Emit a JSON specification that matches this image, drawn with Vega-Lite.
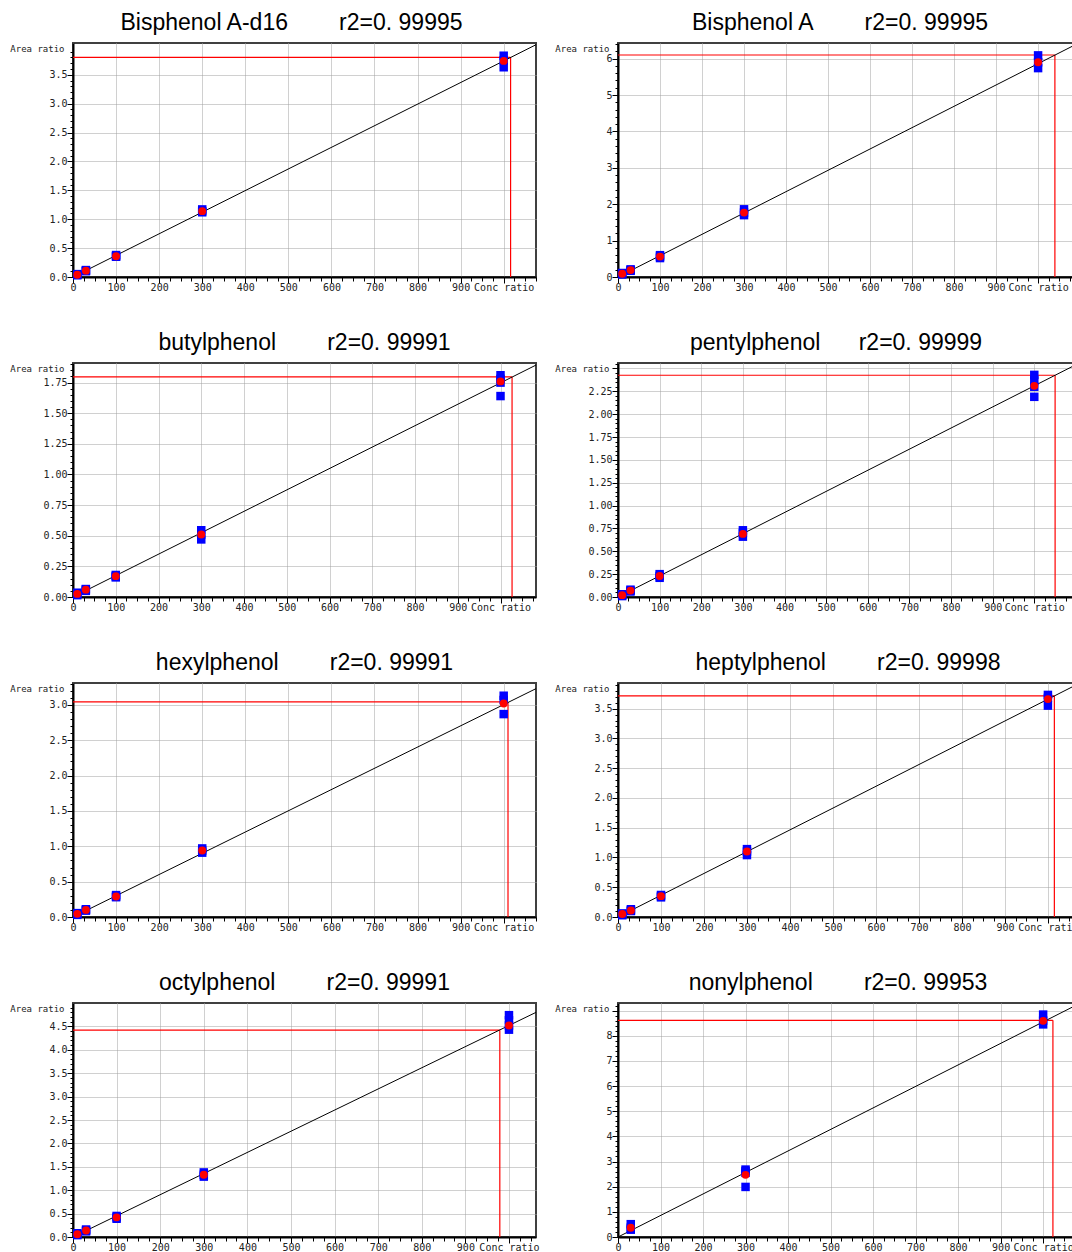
{
"$schema": "https://vega.github.io/schema/vega-lite/v6.json",
"padding": {"left": 8, "top": 10, "right": 0, "bottom": 0},
"columns": 2,
"spacing": {"row": 86, "column": 82},
"bounds": "flush",
"config": {
 "view": {"stroke": "#404040", "strokeWidth": 2},
 "axis": {"domainColor": "black", "domainWidth": 2, "tickColor": "black", "tickWidth": 1, "labelFont": "DejaVu Sans Mono", "labelColor": "#222222", "grid": true, "gridColor": "#a0a0a0", "gridDash": [1, 1], "gridWidth": 1, "labelOverlap": false, "labelFlush": false, "titleFont": "DejaVu Sans Mono", "titleFontSize": 9, "titleFontWeight": "normal", "titleColor": "#222222"},
 "axisX": {"labelPadding": -1},
 "axisY": {"labelPadding": 0, "titleAngle": 0, "titleAlign": "right", "titleBaseline": "middle", "titleX": -9, "titleY": 5},
 "title": {"font": "Liberation Sans", "fontSize": 23, "fontWeight": "normal", "offset": 8, "anchor": "middle", "color": "black"}
},
"datasets": {
 "seg": [
  {"p": "d16", "k": "ref", "x0": 0, "y0": 3.80, "x1": 1016, "y1": 3.80}, {"p": "d16", "k": "ref", "x0": 1016, "y0": 0, "x1": 1016, "y1": 3.80},
  {"p": "bpa", "k": "ref", "x0": 0, "y0": 6.10, "x1": 1040, "y1": 6.10}, {"p": "bpa", "k": "ref", "x0": 1040, "y0": 0, "x1": 1040, "y1": 6.10},
  {"p": "but", "k": "ref", "x0": 0, "y0": 1.796, "x1": 1027, "y1": 1.796}, {"p": "but", "k": "ref", "x0": 1027, "y0": 0, "x1": 1027, "y1": 1.796},
  {"p": "pen", "k": "ref", "x0": 0, "y0": 2.426, "x1": 1050, "y1": 2.426}, {"p": "pen", "k": "ref", "x0": 1050, "y0": 0, "x1": 1050, "y1": 2.426},
  {"p": "hex", "k": "ref", "x0": 0, "y0": 3.042, "x1": 1010, "y1": 3.042}, {"p": "hex", "k": "ref", "x0": 1010, "y0": 0, "x1": 1010, "y1": 3.042},
  {"p": "hep", "k": "ref", "x0": 0, "y0": 3.713, "x1": 1015, "y1": 3.713}, {"p": "hep", "k": "ref", "x0": 1015, "y0": 0, "x1": 1015, "y1": 3.713},
  {"p": "oct", "k": "ref", "x0": 0, "y0": 4.42, "x1": 979, "y1": 4.42}, {"p": "oct", "k": "ref", "x0": 979, "y0": 0, "x1": 979, "y1": 4.42},
  {"p": "non", "k": "ref", "x0": 0, "y0": 8.61, "x1": 1023, "y1": 8.61}, {"p": "non", "k": "ref", "x0": 1023, "y0": 0, "x1": 1023, "y1": 8.61},
  {"p": "d16", "k": "fit", "x0": 0, "y0": 0, "x1": 1075, "y1": 4.02},
  {"p": "bpa", "k": "fit", "x0": 0, "y0": 0, "x1": 1095, "y1": 6.42},
  {"p": "but", "k": "fit", "x0": 0, "y0": 0, "x1": 1083, "y1": 1.893},
  {"p": "pen", "k": "fit", "x0": 0, "y0": 0, "x1": 1105, "y1": 2.553},
  {"p": "hex", "k": "fit", "x0": 0, "y0": 0, "x1": 1075, "y1": 3.23},
  {"p": "hep", "k": "fit", "x0": 0, "y0": 0, "x1": 1070, "y1": 3.914},
  {"p": "oct", "k": "fit", "x0": 0, "y0": 0, "x1": 1062, "y1": 4.80},
  {"p": "non", "k": "fit", "x0": 0, "y0": 0, "x1": 1082, "y1": 9.25}
 ],
 "pts": [
  {"p": "d16", "t": "rep", "c": 10, "v": 0.03}, {"p": "d16", "t": "rep", "c": 10, "v": 0.04}, {"p": "d16", "t": "rep", "c": 10, "v": 0.05},
  {"p": "d16", "t": "rep", "c": 30, "v": 0.10}, {"p": "d16", "t": "rep", "c": 30, "v": 0.11}, {"p": "d16", "t": "rep", "c": 30, "v": 0.12},
  {"p": "d16", "t": "rep", "c": 100, "v": 0.35}, {"p": "d16", "t": "rep", "c": 100, "v": 0.36}, {"p": "d16", "t": "rep", "c": 100, "v": 0.38},
  {"p": "d16", "t": "rep", "c": 300, "v": 1.12}, {"p": "d16", "t": "rep", "c": 300, "v": 1.14}, {"p": "d16", "t": "rep", "c": 300, "v": 1.17},
  {"p": "d16", "t": "rep", "c": 1000, "v": 3.63}, {"p": "d16", "t": "rep", "c": 1000, "v": 3.75}, {"p": "d16", "t": "rep", "c": 1000, "v": 3.83},
  {"p": "d16", "t": "mean", "c": 10, "v": 0.04}, {"p": "d16", "t": "mean", "c": 30, "v": 0.11}, {"p": "d16", "t": "mean", "c": 100, "v": 0.36}, {"p": "d16", "t": "mean", "c": 300, "v": 1.14}, {"p": "d16", "t": "mean", "c": 1000, "v": 3.74},

  {"p": "bpa", "t": "rep", "c": 10, "v": 0.07}, {"p": "bpa", "t": "rep", "c": 10, "v": 0.09}, {"p": "bpa", "t": "rep", "c": 10, "v": 0.11},
  {"p": "bpa", "t": "rep", "c": 30, "v": 0.17}, {"p": "bpa", "t": "rep", "c": 30, "v": 0.19}, {"p": "bpa", "t": "rep", "c": 30, "v": 0.21},
  {"p": "bpa", "t": "rep", "c": 100, "v": 0.52}, {"p": "bpa", "t": "rep", "c": 100, "v": 0.56}, {"p": "bpa", "t": "rep", "c": 100, "v": 0.60},
  {"p": "bpa", "t": "rep", "c": 300, "v": 1.70}, {"p": "bpa", "t": "rep", "c": 300, "v": 1.77}, {"p": "bpa", "t": "rep", "c": 300, "v": 1.86},
  {"p": "bpa", "t": "rep", "c": 1000, "v": 5.74}, {"p": "bpa", "t": "rep", "c": 1000, "v": 5.90}, {"p": "bpa", "t": "rep", "c": 1000, "v": 6.09},
  {"p": "bpa", "t": "mean", "c": 10, "v": 0.09}, {"p": "bpa", "t": "mean", "c": 30, "v": 0.19}, {"p": "bpa", "t": "mean", "c": 100, "v": 0.56}, {"p": "bpa", "t": "mean", "c": 300, "v": 1.77}, {"p": "bpa", "t": "mean", "c": 1000, "v": 5.90},

  {"p": "but", "t": "rep", "c": 10, "v": 0.015}, {"p": "but", "t": "rep", "c": 10, "v": 0.025}, {"p": "but", "t": "rep", "c": 10, "v": 0.035},
  {"p": "but", "t": "rep", "c": 30, "v": 0.05}, {"p": "but", "t": "rep", "c": 30, "v": 0.06}, {"p": "but", "t": "rep", "c": 30, "v": 0.065},
  {"p": "but", "t": "rep", "c": 100, "v": 0.16}, {"p": "but", "t": "rep", "c": 100, "v": 0.17}, {"p": "but", "t": "rep", "c": 100, "v": 0.18},
  {"p": "but", "t": "rep", "c": 300, "v": 0.47}, {"p": "but", "t": "rep", "c": 300, "v": 0.51}, {"p": "but", "t": "rep", "c": 300, "v": 0.545},
  {"p": "but", "t": "rep", "c": 1000, "v": 1.64}, {"p": "but", "t": "rep", "c": 1000, "v": 1.75}, {"p": "but", "t": "rep", "c": 1000, "v": 1.78}, {"p": "but", "t": "rep", "c": 1000, "v": 1.81},
  {"p": "but", "t": "mean", "c": 10, "v": 0.025}, {"p": "but", "t": "mean", "c": 30, "v": 0.06}, {"p": "but", "t": "mean", "c": 100, "v": 0.17}, {"p": "but", "t": "mean", "c": 300, "v": 0.51}, {"p": "but", "t": "mean", "c": 1000, "v": 1.76},

  {"p": "pen", "t": "rep", "c": 10, "v": 0.01}, {"p": "pen", "t": "rep", "c": 10, "v": 0.02}, {"p": "pen", "t": "rep", "c": 10, "v": 0.03},
  {"p": "pen", "t": "rep", "c": 30, "v": 0.06}, {"p": "pen", "t": "rep", "c": 30, "v": 0.07}, {"p": "pen", "t": "rep", "c": 30, "v": 0.08},
  {"p": "pen", "t": "rep", "c": 100, "v": 0.21}, {"p": "pen", "t": "rep", "c": 100, "v": 0.23}, {"p": "pen", "t": "rep", "c": 100, "v": 0.25},
  {"p": "pen", "t": "rep", "c": 300, "v": 0.66}, {"p": "pen", "t": "rep", "c": 300, "v": 0.70}, {"p": "pen", "t": "rep", "c": 300, "v": 0.73},
  {"p": "pen", "t": "rep", "c": 1000, "v": 2.19}, {"p": "pen", "t": "rep", "c": 1000, "v": 2.30}, {"p": "pen", "t": "rep", "c": 1000, "v": 2.37}, {"p": "pen", "t": "rep", "c": 1000, "v": 2.43},
  {"p": "pen", "t": "mean", "c": 10, "v": 0.02}, {"p": "pen", "t": "mean", "c": 30, "v": 0.07}, {"p": "pen", "t": "mean", "c": 100, "v": 0.23}, {"p": "pen", "t": "mean", "c": 300, "v": 0.69}, {"p": "pen", "t": "mean", "c": 1000, "v": 2.31},

  {"p": "hex", "t": "rep", "c": 10, "v": 0.03}, {"p": "hex", "t": "rep", "c": 10, "v": 0.045}, {"p": "hex", "t": "rep", "c": 10, "v": 0.055},
  {"p": "hex", "t": "rep", "c": 30, "v": 0.09}, {"p": "hex", "t": "rep", "c": 30, "v": 0.10}, {"p": "hex", "t": "rep", "c": 30, "v": 0.11},
  {"p": "hex", "t": "rep", "c": 100, "v": 0.28}, {"p": "hex", "t": "rep", "c": 100, "v": 0.29}, {"p": "hex", "t": "rep", "c": 100, "v": 0.31},
  {"p": "hex", "t": "rep", "c": 300, "v": 0.91}, {"p": "hex", "t": "rep", "c": 300, "v": 0.94}, {"p": "hex", "t": "rep", "c": 300, "v": 0.97},
  {"p": "hex", "t": "rep", "c": 1000, "v": 2.87}, {"p": "hex", "t": "rep", "c": 1000, "v": 3.07}, {"p": "hex", "t": "rep", "c": 1000, "v": 3.13},
  {"p": "hex", "t": "mean", "c": 10, "v": 0.045}, {"p": "hex", "t": "mean", "c": 30, "v": 0.10}, {"p": "hex", "t": "mean", "c": 100, "v": 0.29}, {"p": "hex", "t": "mean", "c": 300, "v": 0.94}, {"p": "hex", "t": "mean", "c": 1000, "v": 3.02},

  {"p": "hep", "t": "rep", "c": 10, "v": 0.03}, {"p": "hep", "t": "rep", "c": 10, "v": 0.05}, {"p": "hep", "t": "rep", "c": 10, "v": 0.06},
  {"p": "hep", "t": "rep", "c": 30, "v": 0.10}, {"p": "hep", "t": "rep", "c": 30, "v": 0.11}, {"p": "hep", "t": "rep", "c": 30, "v": 0.13},
  {"p": "hep", "t": "rep", "c": 100, "v": 0.33}, {"p": "hep", "t": "rep", "c": 100, "v": 0.35}, {"p": "hep", "t": "rep", "c": 100, "v": 0.37},
  {"p": "hep", "t": "rep", "c": 300, "v": 1.04}, {"p": "hep", "t": "rep", "c": 300, "v": 1.10}, {"p": "hep", "t": "rep", "c": 300, "v": 1.14},
  {"p": "hep", "t": "rep", "c": 1000, "v": 3.55}, {"p": "hep", "t": "rep", "c": 1000, "v": 3.68}, {"p": "hep", "t": "rep", "c": 1000, "v": 3.73},
  {"p": "hep", "t": "mean", "c": 10, "v": 0.05}, {"p": "hep", "t": "mean", "c": 30, "v": 0.11}, {"p": "hep", "t": "mean", "c": 100, "v": 0.35}, {"p": "hep", "t": "mean", "c": 300, "v": 1.10}, {"p": "hep", "t": "mean", "c": 1000, "v": 3.66},

  {"p": "oct", "t": "rep", "c": 10, "v": 0.04}, {"p": "oct", "t": "rep", "c": 10, "v": 0.06}, {"p": "oct", "t": "rep", "c": 10, "v": 0.08},
  {"p": "oct", "t": "rep", "c": 30, "v": 0.12}, {"p": "oct", "t": "rep", "c": 30, "v": 0.14}, {"p": "oct", "t": "rep", "c": 30, "v": 0.16},
  {"p": "oct", "t": "rep", "c": 100, "v": 0.39}, {"p": "oct", "t": "rep", "c": 100, "v": 0.42}, {"p": "oct", "t": "rep", "c": 100, "v": 0.45},
  {"p": "oct", "t": "rep", "c": 300, "v": 1.29}, {"p": "oct", "t": "rep", "c": 300, "v": 1.33}, {"p": "oct", "t": "rep", "c": 300, "v": 1.38},
  {"p": "oct", "t": "rep", "c": 1000, "v": 4.43}, {"p": "oct", "t": "rep", "c": 1000, "v": 4.52}, {"p": "oct", "t": "rep", "c": 1000, "v": 4.63}, {"p": "oct", "t": "rep", "c": 1000, "v": 4.74},
  {"p": "oct", "t": "mean", "c": 10, "v": 0.06}, {"p": "oct", "t": "mean", "c": 30, "v": 0.14}, {"p": "oct", "t": "mean", "c": 100, "v": 0.42}, {"p": "oct", "t": "mean", "c": 300, "v": 1.33}, {"p": "oct", "t": "mean", "c": 1000, "v": 4.52},

  {"p": "non", "t": "rep", "c": 30, "v": 0.29}, {"p": "non", "t": "rep", "c": 30, "v": 0.37}, {"p": "non", "t": "rep", "c": 30, "v": 0.51},
  {"p": "non", "t": "rep", "c": 300, "v": 1.99}, {"p": "non", "t": "rep", "c": 300, "v": 2.55}, {"p": "non", "t": "rep", "c": 300, "v": 2.62}, {"p": "non", "t": "rep", "c": 300, "v": 2.68},
  {"p": "non", "t": "rep", "c": 1000, "v": 8.45}, {"p": "non", "t": "rep", "c": 1000, "v": 8.60}, {"p": "non", "t": "rep", "c": 1000, "v": 8.84},
  {"p": "non", "t": "mean", "c": 30, "v": 0.37}, {"p": "non", "t": "mean", "c": 300, "v": 2.47}, {"p": "non", "t": "mean", "c": 1000, "v": 8.59}
 ]
},
"concat": [
 {"width": 463, "height": 234,
  "title": {"text": "Bisphenol A-d16\u00a0\u00a0\u00a0\u00a0\u00a0\u00a0\u00a0\u00a0r2=0. 99995", "dx": -13},
  "layer": [
   {"data": {"name": "seg"}, "transform": [{"filter": "datum.p == 'd16' && datum.k == 'ref'"}], "mark": {"type": "rule", "color": "#ff0000", "strokeWidth": 1.2},
    "encoding": {
     "x": {"field": "x0", "type": "quantitative", "scale": {"domain": [0, 1075], "nice": false, "zero": false},
       "axis": {"title": null, "format": "d", "tickCount": 500, "values": [0,25,50,75,100,125,150,175,200,225,250,275,300,325,350,375,400,425,450,475,500,525,550,575,600,625,650,675,700,725,750,775,800,825,850,875,900,925,950,975,1000,1025,1050,1075],
        "labelExpr": "datum.value == 1000 ? 'Conc ratio' : (datum.value % 100 == 0 ? datum.label : '')",
        "labelFontSize": {"condition": {"test": "datum.value % 100 == 0", "value": 10}, "value": 1},
        "tickSize": {"condition": {"test": "datum.value % 100 == 0", "value": 6}, "value": 4},
        "gridOpacity": {"condition": {"test": "datum.value % 100 == 0", "value": 1}, "value": 0}}},
     "x2": {"field": "x1"},
     "y": {"field": "y0", "type": "quantitative", "scale": {"domain": [0, 4.05], "nice": false, "zero": false},
       "axis": {"title": "Area ratio", "format": ".1f", "tickCount": 500, "tickMinStep": 0.01, "values": [0,0.1,0.2,0.3,0.4,0.5,0.6,0.7,0.8,0.9,1,1.1,1.2,1.3,1.4,1.5,1.6,1.7,1.8,1.9,2,2.1,2.2,2.3,2.4,2.5,2.6,2.7,2.8,2.9,3,3.1,3.2,3.3,3.4,3.5,3.6,3.7,3.8,3.9],
        "labelExpr": "abs(datum.value*2 - round(datum.value*2)) < 0.001 ? datum.label : ''",
        "labelFontSize": {"condition": {"test": "abs(datum.value*2 - round(datum.value*2)) < 0.001", "value": 10}, "value": 1},
        "tickSize": {"condition": {"test": "abs(datum.value*2 - round(datum.value*2)) < 0.001", "value": 6}, "value": 3},
        "gridOpacity": {"condition": {"test": "abs(datum.value*2 - round(datum.value*2)) < 0.001", "value": 1}, "value": 0}}},
     "y2": {"field": "y1"}
    }},
   {"data": {"name": "seg"}, "transform": [{"filter": "datum.p == 'd16' && datum.k == 'fit'"}], "mark": {"type": "rule", "color": "black", "strokeWidth": 1},
    "encoding": {"x": {"field": "x0", "type": "quantitative"}, "y": {"field": "y0", "type": "quantitative"}, "x2": {"field": "x1"}, "y2": {"field": "y1"}}},
   {"data": {"name": "pts"}, "transform": [{"filter": "datum.p == 'd16' && datum.t == 'rep'"}], "mark": {"type": "point", "shape": "square", "filled": true, "color": "#0000ff", "size": 72, "opacity": 1},
    "encoding": {"x": {"field": "c", "type": "quantitative"}, "y": {"field": "v", "type": "quantitative"}}},
   {"data": {"name": "pts"}, "transform": [{"filter": "datum.p == 'd16' && datum.t == 'mean'"}], "mark": {"type": "point", "shape": "circle", "filled": true, "color": "#ff0000", "size": 62, "opacity": 1},
    "encoding": {"x": {"field": "c", "type": "quantitative"}, "y": {"field": "v", "type": "quantitative"}}}
  ]},

 {"width": 460, "height": 234,
  "title": {"text": "Bisphenol A\u00a0\u00a0\u00a0\u00a0\u00a0\u00a0\u00a0\u00a0r2=0. 99995", "dx": -8},
  "layer": [
   {"data": {"name": "seg"}, "transform": [{"filter": "datum.p == 'bpa' && datum.k == 'ref'"}], "mark": {"type": "rule", "color": "#ff0000", "strokeWidth": 1.2},
    "encoding": {
     "x": {"field": "x0", "type": "quantitative", "scale": {"domain": [0, 1095], "nice": false, "zero": false},
       "axis": {"title": null, "format": "d", "tickCount": 500, "values": [0,25,50,75,100,125,150,175,200,225,250,275,300,325,350,375,400,425,450,475,500,525,550,575,600,625,650,675,700,725,750,775,800,825,850,875,900,925,950,975,1000,1025,1050,1075],
        "labelExpr": "datum.value == 1000 ? 'Conc ratio' : (datum.value % 100 == 0 ? datum.label : '')",
        "labelFontSize": {"condition": {"test": "datum.value % 100 == 0", "value": 10}, "value": 1},
        "tickSize": {"condition": {"test": "datum.value % 100 == 0", "value": 6}, "value": 4},
        "gridOpacity": {"condition": {"test": "datum.value % 100 == 0", "value": 1}, "value": 0}}},
     "x2": {"field": "x1"},
     "y": {"field": "y0", "type": "quantitative", "scale": {"domain": [0, 6.43], "nice": false, "zero": false},
       "axis": {"title": "Area ratio", "format": ".0f", "tickCount": 500, "tickMinStep": 0.01, "values": [0,0.2,0.4,0.6,0.8,1,1.2,1.4,1.6,1.8,2,2.2,2.4,2.6,2.8,3,3.2,3.4,3.6,3.8,4,4.2,4.4,4.6,4.8,5,5.2,5.4,5.6,5.8,6,6.2,6.4],
        "labelExpr": "abs(datum.value - round(datum.value)) < 0.001 ? datum.label : ''",
        "labelFontSize": {"condition": {"test": "abs(datum.value - round(datum.value)) < 0.001", "value": 10}, "value": 1},
        "tickSize": {"condition": {"test": "abs(datum.value - round(datum.value)) < 0.001", "value": 6}, "value": 3},
        "gridOpacity": {"condition": {"test": "abs(datum.value - round(datum.value)) < 0.001", "value": 1}, "value": 0}}},
     "y2": {"field": "y1"}
    }},
   {"data": {"name": "seg"}, "transform": [{"filter": "datum.p == 'bpa' && datum.k == 'fit'"}], "mark": {"type": "rule", "color": "black", "strokeWidth": 1},
    "encoding": {"x": {"field": "x0", "type": "quantitative"}, "y": {"field": "y0", "type": "quantitative"}, "x2": {"field": "x1"}, "y2": {"field": "y1"}}},
   {"data": {"name": "pts"}, "transform": [{"filter": "datum.p == 'bpa' && datum.t == 'rep'"}], "mark": {"type": "point", "shape": "square", "filled": true, "color": "#0000ff", "size": 72, "opacity": 1},
    "encoding": {"x": {"field": "c", "type": "quantitative"}, "y": {"field": "v", "type": "quantitative"}}},
   {"data": {"name": "pts"}, "transform": [{"filter": "datum.p == 'bpa' && datum.t == 'mean'"}], "mark": {"type": "point", "shape": "circle", "filled": true, "color": "#ff0000", "size": 62, "opacity": 1},
    "encoding": {"x": {"field": "c", "type": "quantitative"}, "y": {"field": "v", "type": "quantitative"}}}
  ]},

 {"width": 463, "height": 234,
  "title": {"text": "butylphenol\u00a0\u00a0\u00a0\u00a0\u00a0\u00a0\u00a0\u00a0r2=0. 99991"},
  "layer": [
   {"data": {"name": "seg"}, "transform": [{"filter": "datum.p == 'but' && datum.k == 'ref'"}], "mark": {"type": "rule", "color": "#ff0000", "strokeWidth": 1.2},
    "encoding": {
     "x": {"field": "x0", "type": "quantitative", "scale": {"domain": [0, 1083], "nice": false, "zero": false},
       "axis": {"title": null, "format": "d", "tickCount": 500, "values": [0,25,50,75,100,125,150,175,200,225,250,275,300,325,350,375,400,425,450,475,500,525,550,575,600,625,650,675,700,725,750,775,800,825,850,875,900,925,950,975,1000,1025,1050,1075],
        "labelExpr": "datum.value == 1000 ? 'Conc ratio' : (datum.value % 100 == 0 ? datum.label : '')",
        "labelFontSize": {"condition": {"test": "datum.value % 100 == 0", "value": 10}, "value": 1},
        "tickSize": {"condition": {"test": "datum.value % 100 == 0", "value": 6}, "value": 4},
        "gridOpacity": {"condition": {"test": "datum.value % 100 == 0", "value": 1}, "value": 0}}},
     "x2": {"field": "x1"},
     "y": {"field": "y0", "type": "quantitative", "scale": {"domain": [0, 1.91], "nice": false, "zero": false},
       "axis": {"title": "Area ratio", "format": ".2f", "tickCount": 500, "tickMinStep": 0.01, "values": [0,0.05,0.1,0.15,0.2,0.25,0.3,0.35,0.4,0.45,0.5,0.55,0.6,0.65,0.7,0.75,0.8,0.85,0.9,0.95,1,1.05,1.1,1.15,1.2,1.25,1.3,1.35,1.4,1.45,1.5,1.55,1.6,1.65,1.7,1.75,1.8,1.85,1.9],
        "labelExpr": "abs(datum.value*4 - round(datum.value*4)) < 0.001 ? datum.label : ''",
        "labelFontSize": {"condition": {"test": "abs(datum.value*4 - round(datum.value*4)) < 0.001", "value": 10}, "value": 1},
        "tickSize": {"condition": {"test": "abs(datum.value*4 - round(datum.value*4)) < 0.001", "value": 6}, "value": 3},
        "gridOpacity": {"condition": {"test": "abs(datum.value*4 - round(datum.value*4)) < 0.001", "value": 1}, "value": 0}}},
     "y2": {"field": "y1"}
    }},
   {"data": {"name": "seg"}, "transform": [{"filter": "datum.p == 'but' && datum.k == 'fit'"}], "mark": {"type": "rule", "color": "black", "strokeWidth": 1},
    "encoding": {"x": {"field": "x0", "type": "quantitative"}, "y": {"field": "y0", "type": "quantitative"}, "x2": {"field": "x1"}, "y2": {"field": "y1"}}},
   {"data": {"name": "pts"}, "transform": [{"filter": "datum.p == 'but' && datum.t == 'rep'"}], "mark": {"type": "point", "shape": "square", "filled": true, "color": "#0000ff", "size": 72, "opacity": 1},
    "encoding": {"x": {"field": "c", "type": "quantitative"}, "y": {"field": "v", "type": "quantitative"}}},
   {"data": {"name": "pts"}, "transform": [{"filter": "datum.p == 'but' && datum.t == 'mean'"}], "mark": {"type": "point", "shape": "circle", "filled": true, "color": "#ff0000", "size": 62, "opacity": 1},
    "encoding": {"x": {"field": "c", "type": "quantitative"}, "y": {"field": "v", "type": "quantitative"}}}
  ]},

 {"width": 460, "height": 234,
  "title": {"text": "pentylphenol\u00a0\u00a0\u00a0\u00a0\u00a0\u00a0r2=0. 99999", "dx": -12},
  "layer": [
   {"data": {"name": "seg"}, "transform": [{"filter": "datum.p == 'pen' && datum.k == 'ref'"}], "mark": {"type": "rule", "color": "#ff0000", "strokeWidth": 1.2},
    "encoding": {
     "x": {"field": "x0", "type": "quantitative", "scale": {"domain": [0, 1105], "nice": false, "zero": false},
       "axis": {"title": null, "format": "d", "tickCount": 500, "values": [0,25,50,75,100,125,150,175,200,225,250,275,300,325,350,375,400,425,450,475,500,525,550,575,600,625,650,675,700,725,750,775,800,825,850,875,900,925,950,975,1000,1025,1050,1075,1100],
        "labelExpr": "datum.value == 1000 ? 'Conc ratio' : (datum.value % 100 == 0 && datum.value < 1000 ? datum.label : '')",
        "labelFontSize": {"condition": {"test": "datum.value % 100 == 0", "value": 10}, "value": 1},
        "tickSize": {"condition": {"test": "datum.value % 100 == 0", "value": 6}, "value": 4},
        "gridOpacity": {"condition": {"test": "datum.value % 100 == 0", "value": 1}, "value": 0}}},
     "x2": {"field": "x1"},
     "y": {"field": "y0", "type": "quantitative", "scale": {"domain": [0, 2.56], "nice": false, "zero": false},
       "axis": {"title": "Area ratio", "format": ".2f", "tickCount": 500, "tickMinStep": 0.01, "values": [0,0.05,0.1,0.15,0.2,0.25,0.3,0.35,0.4,0.45,0.5,0.55,0.6,0.65,0.7,0.75,0.8,0.85,0.9,0.95,1,1.05,1.1,1.15,1.2,1.25,1.3,1.35,1.4,1.45,1.5,1.55,1.6,1.65,1.7,1.75,1.8,1.85,1.9,1.95,2,2.05,2.1,2.15,2.2,2.25,2.3,2.35,2.4,2.45,2.5,2.55],
        "labelExpr": "abs(datum.value*4 - round(datum.value*4)) < 0.001 && datum.value < 2.4 ? datum.label : ''",
        "labelFontSize": {"condition": {"test": "abs(datum.value*4 - round(datum.value*4)) < 0.001 && datum.value < 2.4", "value": 10}, "value": 1},
        "tickSize": {"condition": {"test": "abs(datum.value*4 - round(datum.value*4)) < 0.001", "value": 6}, "value": 3},
        "gridOpacity": {"condition": {"test": "abs(datum.value*4 - round(datum.value*4)) < 0.001", "value": 1}, "value": 0}}},
     "y2": {"field": "y1"}
    }},
   {"data": {"name": "seg"}, "transform": [{"filter": "datum.p == 'pen' && datum.k == 'fit'"}], "mark": {"type": "rule", "color": "black", "strokeWidth": 1},
    "encoding": {"x": {"field": "x0", "type": "quantitative"}, "y": {"field": "y0", "type": "quantitative"}, "x2": {"field": "x1"}, "y2": {"field": "y1"}}},
   {"data": {"name": "pts"}, "transform": [{"filter": "datum.p == 'pen' && datum.t == 'rep'"}], "mark": {"type": "point", "shape": "square", "filled": true, "color": "#0000ff", "size": 72, "opacity": 1},
    "encoding": {"x": {"field": "c", "type": "quantitative"}, "y": {"field": "v", "type": "quantitative"}}},
   {"data": {"name": "pts"}, "transform": [{"filter": "datum.p == 'pen' && datum.t == 'mean'"}], "mark": {"type": "point", "shape": "circle", "filled": true, "color": "#ff0000", "size": 62, "opacity": 1},
    "encoding": {"x": {"field": "c", "type": "quantitative"}, "y": {"field": "v", "type": "quantitative"}}}
  ]},

 {"width": 463, "height": 234,
  "title": {"text": "hexylphenol\u00a0\u00a0\u00a0\u00a0\u00a0\u00a0\u00a0\u00a0r2=0. 99991"},
  "layer": [
   {"data": {"name": "seg"}, "transform": [{"filter": "datum.p == 'hex' && datum.k == 'ref'"}], "mark": {"type": "rule", "color": "#ff0000", "strokeWidth": 1.2},
    "encoding": {
     "x": {"field": "x0", "type": "quantitative", "scale": {"domain": [0, 1075], "nice": false, "zero": false},
       "axis": {"title": null, "format": "d", "tickCount": 500, "values": [0,25,50,75,100,125,150,175,200,225,250,275,300,325,350,375,400,425,450,475,500,525,550,575,600,625,650,675,700,725,750,775,800,825,850,875,900,925,950,975,1000,1025,1050,1075],
        "labelExpr": "datum.value == 1000 ? 'Conc ratio' : (datum.value % 100 == 0 ? datum.label : '')",
        "labelFontSize": {"condition": {"test": "datum.value % 100 == 0", "value": 10}, "value": 1},
        "tickSize": {"condition": {"test": "datum.value % 100 == 0", "value": 6}, "value": 4},
        "gridOpacity": {"condition": {"test": "datum.value % 100 == 0", "value": 1}, "value": 0}}},
     "x2": {"field": "x1"},
     "y": {"field": "y0", "type": "quantitative", "scale": {"domain": [0, 3.31], "nice": false, "zero": false},
       "axis": {"title": "Area ratio", "format": ".1f", "tickCount": 500, "tickMinStep": 0.01, "values": [0,0.1,0.2,0.3,0.4,0.5,0.6,0.7,0.8,0.9,1,1.1,1.2,1.3,1.4,1.5,1.6,1.7,1.8,1.9,2,2.1,2.2,2.3,2.4,2.5,2.6,2.7,2.8,2.9,3,3.1,3.2,3.3],
        "labelExpr": "abs(datum.value*2 - round(datum.value*2)) < 0.001 ? datum.label : ''",
        "labelFontSize": {"condition": {"test": "abs(datum.value*2 - round(datum.value*2)) < 0.001", "value": 10}, "value": 1},
        "tickSize": {"condition": {"test": "abs(datum.value*2 - round(datum.value*2)) < 0.001", "value": 6}, "value": 3},
        "gridOpacity": {"condition": {"test": "abs(datum.value*2 - round(datum.value*2)) < 0.001", "value": 1}, "value": 0}}},
     "y2": {"field": "y1"}
    }},
   {"data": {"name": "seg"}, "transform": [{"filter": "datum.p == 'hex' && datum.k == 'fit'"}], "mark": {"type": "rule", "color": "black", "strokeWidth": 1},
    "encoding": {"x": {"field": "x0", "type": "quantitative"}, "y": {"field": "y0", "type": "quantitative"}, "x2": {"field": "x1"}, "y2": {"field": "y1"}}},
   {"data": {"name": "pts"}, "transform": [{"filter": "datum.p == 'hex' && datum.t == 'rep'"}], "mark": {"type": "point", "shape": "square", "filled": true, "color": "#0000ff", "size": 72, "opacity": 1},
    "encoding": {"x": {"field": "c", "type": "quantitative"}, "y": {"field": "v", "type": "quantitative"}}},
   {"data": {"name": "pts"}, "transform": [{"filter": "datum.p == 'hex' && datum.t == 'mean'"}], "mark": {"type": "point", "shape": "circle", "filled": true, "color": "#ff0000", "size": 62, "opacity": 1},
    "encoding": {"x": {"field": "c", "type": "quantitative"}, "y": {"field": "v", "type": "quantitative"}}}
  ]},

 {"width": 460, "height": 234,
  "title": {"text": "heptylphenol\u00a0\u00a0\u00a0\u00a0\u00a0\u00a0\u00a0\u00a0r2=0. 99998"},
  "layer": [
   {"data": {"name": "seg"}, "transform": [{"filter": "datum.p == 'hep' && datum.k == 'ref'"}], "mark": {"type": "rule", "color": "#ff0000", "strokeWidth": 1.2},
    "encoding": {
     "x": {"field": "x0", "type": "quantitative", "scale": {"domain": [0, 1070], "nice": false, "zero": false},
       "axis": {"title": null, "format": "d", "tickCount": 500, "values": [0,25,50,75,100,125,150,175,200,225,250,275,300,325,350,375,400,425,450,475,500,525,550,575,600,625,650,675,700,725,750,775,800,825,850,875,900,925,950,975,1000,1025,1050],
        "labelExpr": "datum.value == 1000 ? 'Conc ratio' : (datum.value % 100 == 0 ? datum.label : '')",
        "labelFontSize": {"condition": {"test": "datum.value % 100 == 0", "value": 10}, "value": 1},
        "tickSize": {"condition": {"test": "datum.value % 100 == 0", "value": 6}, "value": 4},
        "gridOpacity": {"condition": {"test": "datum.value % 100 == 0", "value": 1}, "value": 0}}},
     "x2": {"field": "x1"},
     "y": {"field": "y0", "type": "quantitative", "scale": {"domain": [0, 3.93], "nice": false, "zero": false},
       "axis": {"title": "Area ratio", "format": ".1f", "tickCount": 500, "tickMinStep": 0.01, "values": [0,0.1,0.2,0.3,0.4,0.5,0.6,0.7,0.8,0.9,1,1.1,1.2,1.3,1.4,1.5,1.6,1.7,1.8,1.9,2,2.1,2.2,2.3,2.4,2.5,2.6,2.7,2.8,2.9,3,3.1,3.2,3.3,3.4,3.5,3.6,3.7,3.8,3.9],
        "labelExpr": "abs(datum.value*2 - round(datum.value*2)) < 0.001 ? datum.label : ''",
        "labelFontSize": {"condition": {"test": "abs(datum.value*2 - round(datum.value*2)) < 0.001", "value": 10}, "value": 1},
        "tickSize": {"condition": {"test": "abs(datum.value*2 - round(datum.value*2)) < 0.001", "value": 6}, "value": 3},
        "gridOpacity": {"condition": {"test": "abs(datum.value*2 - round(datum.value*2)) < 0.001", "value": 1}, "value": 0}}},
     "y2": {"field": "y1"}
    }},
   {"data": {"name": "seg"}, "transform": [{"filter": "datum.p == 'hep' && datum.k == 'fit'"}], "mark": {"type": "rule", "color": "black", "strokeWidth": 1},
    "encoding": {"x": {"field": "x0", "type": "quantitative"}, "y": {"field": "y0", "type": "quantitative"}, "x2": {"field": "x1"}, "y2": {"field": "y1"}}},
   {"data": {"name": "pts"}, "transform": [{"filter": "datum.p == 'hep' && datum.t == 'rep'"}], "mark": {"type": "point", "shape": "square", "filled": true, "color": "#0000ff", "size": 72, "opacity": 1},
    "encoding": {"x": {"field": "c", "type": "quantitative"}, "y": {"field": "v", "type": "quantitative"}}},
   {"data": {"name": "pts"}, "transform": [{"filter": "datum.p == 'hep' && datum.t == 'mean'"}], "mark": {"type": "point", "shape": "circle", "filled": true, "color": "#ff0000", "size": 62, "opacity": 1},
    "encoding": {"x": {"field": "c", "type": "quantitative"}, "y": {"field": "v", "type": "quantitative"}}}
  ]},

 {"width": 463, "height": 234,
  "title": {"text": "octylphenol\u00a0\u00a0\u00a0\u00a0\u00a0\u00a0\u00a0\u00a0r2=0. 99991"},
  "layer": [
   {"data": {"name": "seg"}, "transform": [{"filter": "datum.p == 'oct' && datum.k == 'ref'"}], "mark": {"type": "rule", "color": "#ff0000", "strokeWidth": 1.2},
    "encoding": {
     "x": {"field": "x0", "type": "quantitative", "scale": {"domain": [0, 1062], "nice": false, "zero": false},
       "axis": {"title": null, "format": "d", "tickCount": 500, "values": [0,25,50,75,100,125,150,175,200,225,250,275,300,325,350,375,400,425,450,475,500,525,550,575,600,625,650,675,700,725,750,775,800,825,850,875,900,925,950,975,1000,1025,1050],
        "labelExpr": "datum.value == 1000 ? 'Conc ratio' : (datum.value % 100 == 0 ? datum.label : '')",
        "labelFontSize": {"condition": {"test": "datum.value % 100 == 0", "value": 10}, "value": 1},
        "tickSize": {"condition": {"test": "datum.value % 100 == 0", "value": 6}, "value": 4},
        "gridOpacity": {"condition": {"test": "datum.value % 100 == 0", "value": 1}, "value": 0}}},
     "x2": {"field": "x1"},
     "y": {"field": "y0", "type": "quantitative", "scale": {"domain": [0, 5.0], "nice": false, "zero": false},
       "axis": {"title": "Area ratio", "format": ".1f", "tickCount": 500, "tickMinStep": 0.01, "values": [0,0.1,0.2,0.3,0.4,0.5,0.6,0.7,0.8,0.9,1,1.1,1.2,1.3,1.4,1.5,1.6,1.7,1.8,1.9,2,2.1,2.2,2.3,2.4,2.5,2.6,2.7,2.8,2.9,3,3.1,3.2,3.3,3.4,3.5,3.6,3.7,3.8,3.9,4,4.1,4.2,4.3,4.4,4.5,4.6,4.7,4.8,4.9],
        "labelExpr": "abs(datum.value*2 - round(datum.value*2)) < 0.001 ? datum.label : ''",
        "labelFontSize": {"condition": {"test": "abs(datum.value*2 - round(datum.value*2)) < 0.001", "value": 10}, "value": 1},
        "tickSize": {"condition": {"test": "abs(datum.value*2 - round(datum.value*2)) < 0.001", "value": 6}, "value": 3},
        "gridOpacity": {"condition": {"test": "abs(datum.value*2 - round(datum.value*2)) < 0.001", "value": 1}, "value": 0}}},
     "y2": {"field": "y1"}
    }},
   {"data": {"name": "seg"}, "transform": [{"filter": "datum.p == 'oct' && datum.k == 'fit'"}], "mark": {"type": "rule", "color": "black", "strokeWidth": 1},
    "encoding": {"x": {"field": "x0", "type": "quantitative"}, "y": {"field": "y0", "type": "quantitative"}, "x2": {"field": "x1"}, "y2": {"field": "y1"}}},
   {"data": {"name": "pts"}, "transform": [{"filter": "datum.p == 'oct' && datum.t == 'rep'"}], "mark": {"type": "point", "shape": "square", "filled": true, "color": "#0000ff", "size": 72, "opacity": 1},
    "encoding": {"x": {"field": "c", "type": "quantitative"}, "y": {"field": "v", "type": "quantitative"}}},
   {"data": {"name": "pts"}, "transform": [{"filter": "datum.p == 'oct' && datum.t == 'mean'"}], "mark": {"type": "point", "shape": "circle", "filled": true, "color": "#ff0000", "size": 62, "opacity": 1},
    "encoding": {"x": {"field": "c", "type": "quantitative"}, "y": {"field": "v", "type": "quantitative"}}}
  ]},

 {"width": 460, "height": 234,
  "title": {"text": "nonylphenol\u00a0\u00a0\u00a0\u00a0\u00a0\u00a0\u00a0\u00a0r2=0. 99953", "dx": -10},
  "layer": [
   {"data": {"name": "seg"}, "transform": [{"filter": "datum.p == 'non' && datum.k == 'ref'"}], "mark": {"type": "rule", "color": "#ff0000", "strokeWidth": 1.2},
    "encoding": {
     "x": {"field": "x0", "type": "quantitative", "scale": {"domain": [0, 1082], "nice": false, "zero": false},
       "axis": {"title": null, "format": "d", "tickCount": 500, "values": [0,25,50,75,100,125,150,175,200,225,250,275,300,325,350,375,400,425,450,475,500,525,550,575,600,625,650,675,700,725,750,775,800,825,850,875,900,925,950,975,1000,1025,1050,1075],
        "labelExpr": "datum.value == 1000 ? 'Conc ratio' : (datum.value % 100 == 0 ? datum.label : '')",
        "labelFontSize": {"condition": {"test": "datum.value % 100 == 0", "value": 10}, "value": 1},
        "tickSize": {"condition": {"test": "datum.value % 100 == 0", "value": 6}, "value": 4},
        "gridOpacity": {"condition": {"test": "datum.value % 100 == 0", "value": 1}, "value": 0}}},
     "x2": {"field": "x1"},
     "y": {"field": "y0", "type": "quantitative", "scale": {"domain": [0, 9.3], "nice": false, "zero": false},
       "axis": {"title": "Area ratio", "format": ".0f", "tickCount": 500, "tickMinStep": 0.01, "values": [0,0.2,0.4,0.6,0.8,1,1.2,1.4,1.6,1.8,2,2.2,2.4,2.6,2.8,3,3.2,3.4,3.6,3.8,4,4.2,4.4,4.6,4.8,5,5.2,5.4,5.6,5.8,6,6.2,6.4,6.6,6.8,7,7.2,7.4,7.6,7.8,8,8.2,8.4,8.6,8.8,9,9.2],
        "labelExpr": "abs(datum.value - round(datum.value)) < 0.001 && datum.value < 8.5 ? datum.label : ''",
        "labelFontSize": {"condition": {"test": "abs(datum.value - round(datum.value)) < 0.001 && datum.value < 8.5", "value": 10}, "value": 1},
        "tickSize": {"condition": {"test": "abs(datum.value - round(datum.value)) < 0.001", "value": 6}, "value": 3},
        "gridOpacity": {"condition": {"test": "abs(datum.value - round(datum.value)) < 0.001", "value": 1}, "value": 0}}},
     "y2": {"field": "y1"}
    }},
   {"data": {"name": "seg"}, "transform": [{"filter": "datum.p == 'non' && datum.k == 'fit'"}], "mark": {"type": "rule", "color": "black", "strokeWidth": 1},
    "encoding": {"x": {"field": "x0", "type": "quantitative"}, "y": {"field": "y0", "type": "quantitative"}, "x2": {"field": "x1"}, "y2": {"field": "y1"}}},
   {"data": {"name": "pts"}, "transform": [{"filter": "datum.p == 'non' && datum.t == 'rep'"}], "mark": {"type": "point", "shape": "square", "filled": true, "color": "#0000ff", "size": 72, "opacity": 1},
    "encoding": {"x": {"field": "c", "type": "quantitative"}, "y": {"field": "v", "type": "quantitative"}}},
   {"data": {"name": "pts"}, "transform": [{"filter": "datum.p == 'non' && datum.t == 'mean'"}], "mark": {"type": "point", "shape": "circle", "filled": true, "color": "#ff0000", "size": 62, "opacity": 1},
    "encoding": {"x": {"field": "c", "type": "quantitative"}, "y": {"field": "v", "type": "quantitative"}}}
  ]}
]
}
